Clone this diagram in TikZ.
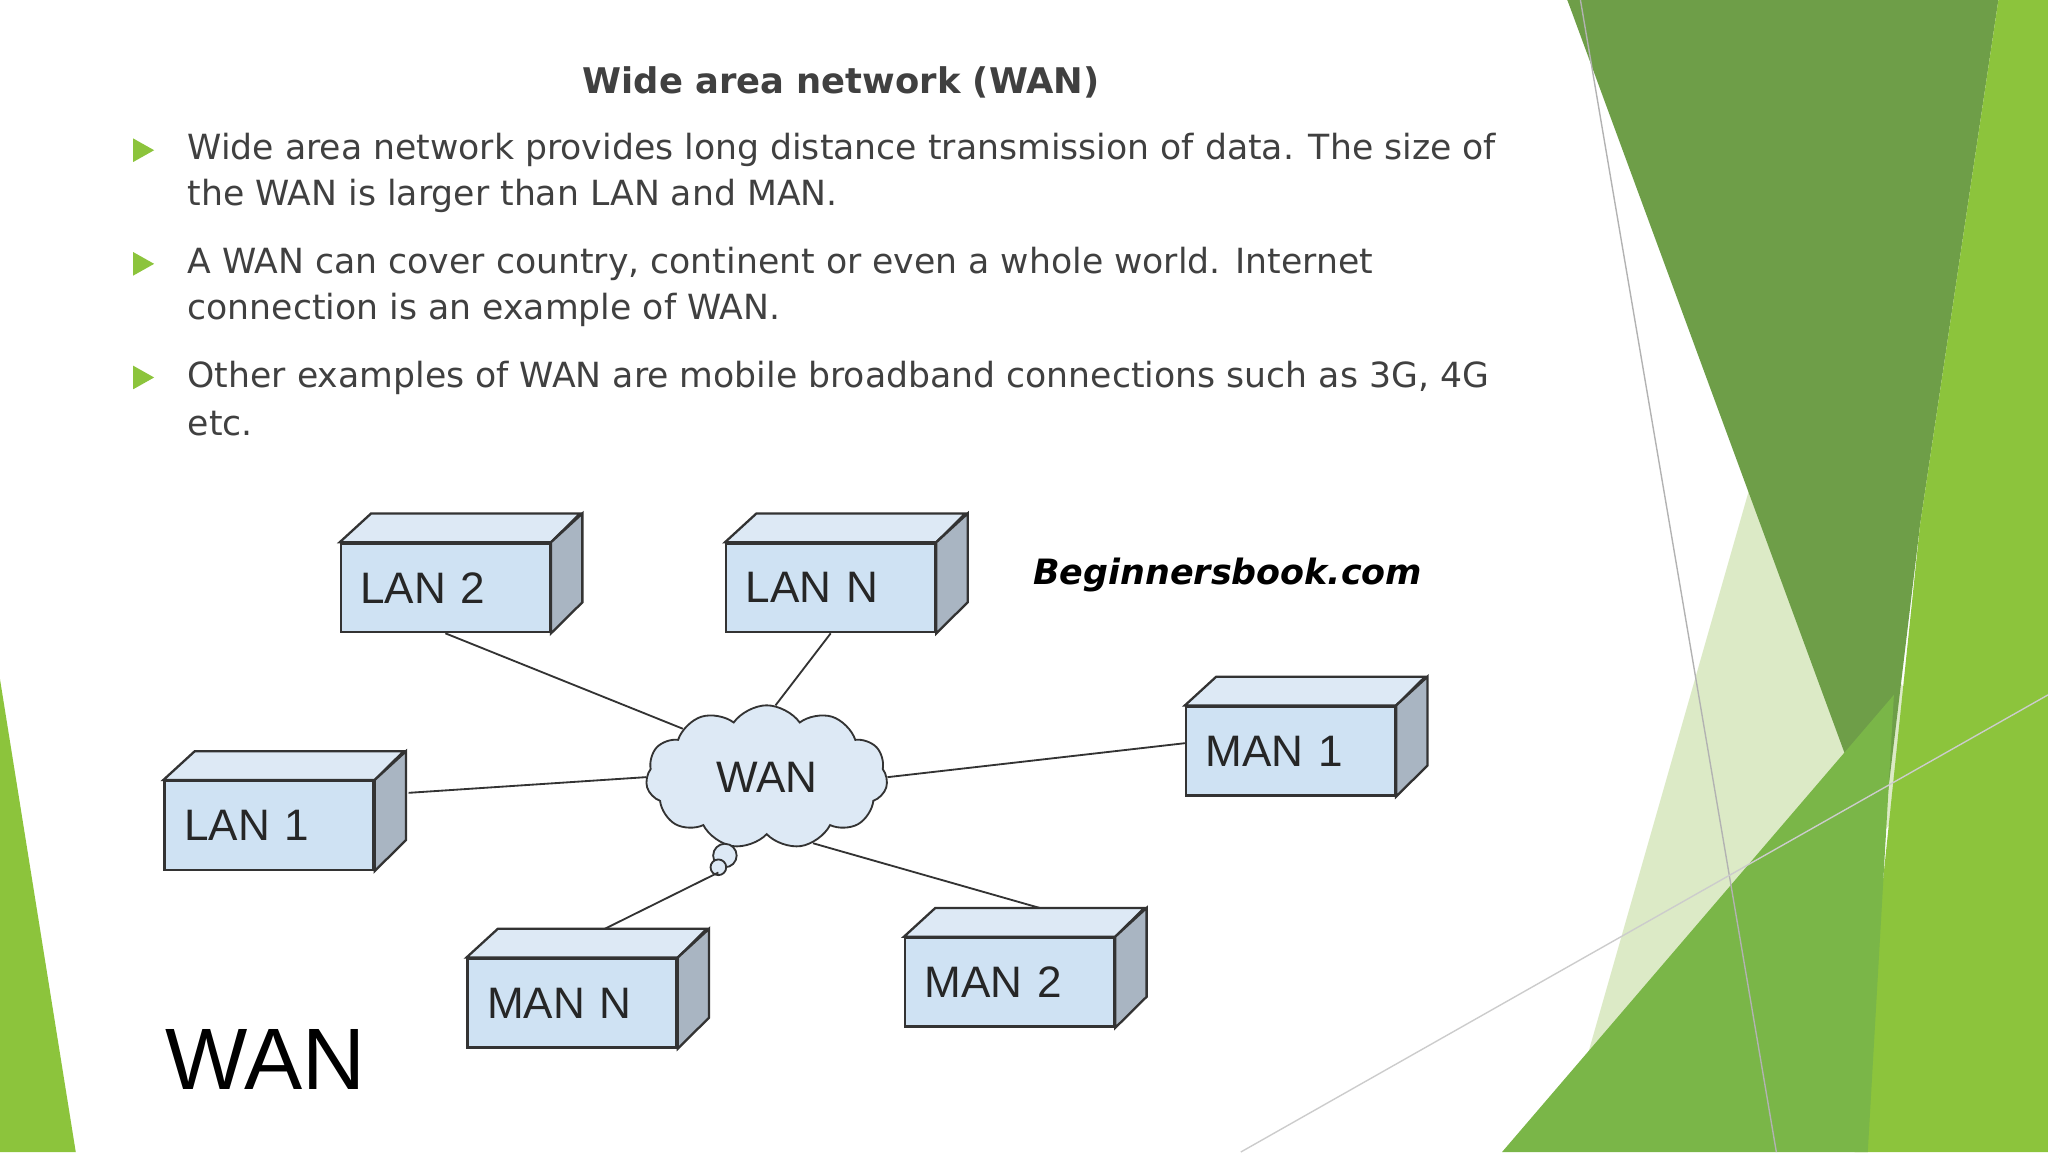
\documentclass[tikz,border=0pt]{standalone}
\usepackage{fontspec}
\setmainfont{DejaVu Sans}
\newfontfamily\arialf{Liberation Sans}
\usetikzlibrary{shapes.symbols}
\definecolor{boxfront}{HTML}{CFE2F3}
\definecolor{boxtop}{HTML}{DDE9F5}
\definecolor{boxside}{HTML}{A9B5C2}
\definecolor{gA}{HTML}{8CC43C}
\definecolor{gB}{HTML}{6E9E48}
\definecolor{gC}{HTML}{7AB648}
\definecolor{gD}{HTML}{DCEAC6}
\definecolor{gE}{HTML}{A9CF7A}
\definecolor{txt}{HTML}{404040}
\tikzset{
  body/.style={anchor=west,inner sep=0,font=\fontsize{7.55}{9}\selectfont,text=txt},
  bul/.style={fill=gA,draw=none},
  box/.style={draw=black!80,fill=boxfront,minimum width=1.6cm,minimum height=0.68cm,inner sep=0,line width=0.5pt,
     font=\arialf\fontsize{9.6}{10}\selectfont,text=black!85,text width=1.3cm},
  link/.style={draw=black!80,line width=0.4pt}
}
\begin{document}
\begin{tikzpicture}
\useasboundingbox[fill=white] (0,0) rectangle (15.68,8.82);
% background shapes
\fill[gD] (12.0,0.2) -- (13.4,5.1) -- (15.0,3.0) -- cycle;
\fill[gE] (12.0,8.82) -- (13.0,8.82) -- (14.4,3.2) -- cycle;
\fill[gB] (12.0,8.82) -- (15.3,8.82) -- (14.7,4.8) -- (14.4,2.3) -- cycle;
\fill[gA] (15.3,8.82) -- (15.68,8.82) -- (15.68,0) -- (14.2,0) -- (14.7,4.8) -- cycle;
\fill[gC] (11.5,0) -- (14.5,3.5) -- (14.3,0) -- cycle;
\fill[gA] (0,3.62) -- (0,0) -- (0.58,0) -- cycle;
\draw[black!30,line width=0.3pt] (12.1,8.82) -- (13.6,0);
\draw[black!20,line width=0.3pt] (9.5,0) -- (15.68,3.5);

% title & bullets
\node[font=\bfseries\fontsize{7.7}{9}\selectfont,text=txt] (title) at (6.44,8.19) {Wide area network (WAN)};
\foreach \y in {7.67,6.80,5.93}{
  \fill[bul] (1.02,\y+0.09) -- (1.02,\y-0.09) -- (1.18,\y) -- cycle;}
\node[body] (t1) at (1.43,7.67) {Wide area network provides long distance transmission of data. The size of};
\node[body] (t1b) at (1.43,7.32) {the WAN is larger than LAN and MAN.};
\node[body] (t2) at (1.43,6.80) {A WAN can cover country, continent or even a whole world. Internet};
\node[body] (t2b) at (1.43,6.45) {connection is an example of WAN.};
\node[body] (t3) at (1.43,5.93) {Other examples of WAN are mobile broadband connections such as 3G, 4G};
\node[body] (t3b) at (1.43,5.58) {etc.};

% cloud
\node[cloud,cloud puffs=11,cloud puff arc=110,aspect=1.7,draw=black!80,fill=boxtop,minimum width=1.85cm,minimum height=1.1cm,inner sep=0,
  font=\arialf\fontsize{9.6}{10}\selectfont,text=black!85] (wan) at (5.87,2.87) {WAN};
\draw[fill=boxtop,draw=black!80,line width=0.4pt] (5.55,2.27) circle (0.09);
\draw[fill=boxtop,draw=black!80,line width=0.4pt] (5.50,2.18) circle (0.06);
\coordinate (wb) at (5.50,2.14);

% boxes
\node[box] (lan2) at (3.41,4.32) {LAN 2};
\node[box] (lann) at (6.36,4.32) {LAN N};
\node[box] (man1) at (9.88,3.07) {MAN 1};
\node[box] (lan1) at (2.06,2.50) {LAN 1};
\node[box] (mann) at (4.38,1.14) {MAN N};
\node[box] (man2) at (7.73,1.30) {MAN 2};
\foreach \b in {lan2,lann,man1,lan1,mann,man2}{
  \draw[fill=boxtop,draw=black!80,line width=0.5pt] (\b.north west)--++(0.24,0.22)--++(1.6,0)--(\b.north east)--cycle;
  \draw[fill=boxside,draw=black!80,line width=0.5pt] (\b.north east)--++(0.24,0.22)--++(0,-0.68)--(\b.south east)--cycle;}

% links
\draw[link] (lan2.south) -- (wan.150);
\draw[link] (lann.south) -- (wan.83);
\draw[link] ([yshift=0.06cm]man1.west) -- (wan.east);
\draw[link] ([xshift=0.26cm,yshift=0.25cm]lan1.east) -- (wan.west);
\draw[link] ([xshift=0.25cm,yshift=0.22cm]mann.north) -- (wb);
\draw[link] ([xshift=0.23cm,yshift=0.22cm]man2.north) -- (wan.-55);

\node[font=\bfseries\itshape\fontsize{7.6}{9}\selectfont] (bb) at (9.40,4.42) {Beginnersbook.com};
\node[font=\arialf\fontsize{19}{20}\selectfont] (big) at (2.03,0.71) {WAN};
\end{tikzpicture}
\end{document}
